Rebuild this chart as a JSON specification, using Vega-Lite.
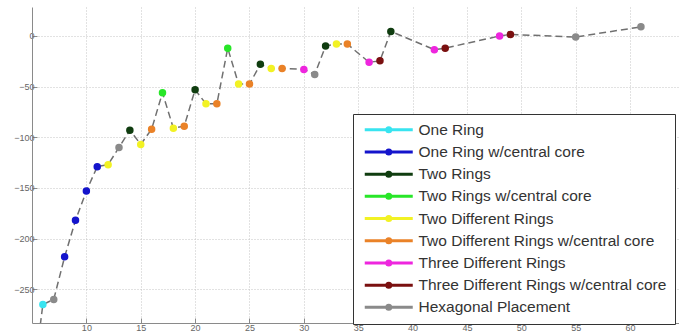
{
  "$schema": "https://vega.github.io/schema/vega-lite/v6.json",
  "autosize": {"type": "none"},
  "width": 647,
  "height": 316,
  "padding": {"left": 32, "top": 7, "right": 0, "bottom": 9},
  "background": "white",
  "config": {
    "view": {"stroke": null},
    "font": "Liberation Sans",
    "axis": {
      "domainColor": "#8a8a8a",
      "domainWidth": 1,
      "gridColor": "#c4c4c4",
      "gridDash": [1, 2],
      "gridWidth": 1,
      "tickColor": "#8a8a8a",
      "tickSize": -5,
      "labelFont": "Liberation Sans",
      "labelFontSize": 9,
      "labelColor": "#666",
      "labelPadding": 3,
      "title": null
    },
    "legend": {
      "orient": "none",
      "legendX": 321,
      "legendY": 107,
      "padding": 8,
      "strokeColor": "#333",
      "fillColor": "white",
      "symbolType": "M-1,0H11M4.5,0a0.5,0.5 0 1,0 1,0a0.5,0.5 0 1,0 -1,0",
      "symbolSize": 64,
      "symbolStrokeWidth": 3,
      "labelOffset": 42,
      "labelFont": "Liberation Sans",
      "labelFontSize": 15.5,
      "labelColor": "#333",
      "labelLimit": 400,
      "rowPadding": 4.2
    }
  },
  "data": {
    "values": [
      {"n": 5, "v": -350, "type": "One Ring"},
      {"n": 6, "v": -265, "type": "One Ring"},
      {"n": 7, "v": -260, "type": "Hexagonal Placement"},
      {"n": 8, "v": -218, "type": "One Ring w/central core"},
      {"n": 9, "v": -182, "type": "One Ring w/central core"},
      {"n": 10, "v": -153, "type": "One Ring w/central core"},
      {"n": 11, "v": -129, "type": "One Ring w/central core"},
      {"n": 12, "v": -127, "type": "Two Different Rings"},
      {"n": 13, "v": -110, "type": "Hexagonal Placement"},
      {"n": 14, "v": -93, "type": "Two Rings"},
      {"n": 15, "v": -107, "type": "Two Different Rings"},
      {"n": 16, "v": -92, "type": "Two Different Rings w/central core"},
      {"n": 17, "v": -56, "type": "Two Rings w/central core"},
      {"n": 18, "v": -91, "type": "Two Different Rings"},
      {"n": 19, "v": -89, "type": "Two Different Rings w/central core"},
      {"n": 20, "v": -53, "type": "Two Rings"},
      {"n": 21, "v": -67, "type": "Two Different Rings"},
      {"n": 22, "v": -67, "type": "Two Different Rings w/central core"},
      {"n": 23, "v": -12, "type": "Two Rings w/central core"},
      {"n": 24, "v": -47.5, "type": "Two Different Rings"},
      {"n": 25, "v": -47.5, "type": "Two Different Rings w/central core"},
      {"n": 26, "v": -28, "type": "Two Rings"},
      {"n": 27, "v": -32, "type": "Two Different Rings"},
      {"n": 28, "v": -32, "type": "Two Different Rings w/central core"},
      {"n": 30, "v": -33, "type": "Three Different Rings"},
      {"n": 31, "v": -38, "type": "Hexagonal Placement"},
      {"n": 32, "v": -10, "type": "Two Rings"},
      {"n": 33, "v": -8, "type": "Two Different Rings"},
      {"n": 34, "v": -8, "type": "Two Different Rings w/central core"},
      {"n": 36, "v": -26, "type": "Three Different Rings"},
      {"n": 37, "v": -24.5, "type": "Three Different Rings w/central core"},
      {"n": 38, "v": 4.5, "type": "Two Rings"},
      {"n": 42, "v": -13.5, "type": "Three Different Rings"},
      {"n": 43, "v": -12, "type": "Three Different Rings w/central core"},
      {"n": 48, "v": 0, "type": "Three Different Rings"},
      {"n": 49, "v": 1.5, "type": "Three Different Rings w/central core"},
      {"n": 55, "v": -1, "type": "Hexagonal Placement"},
      {"n": 61, "v": 9, "type": "Hexagonal Placement"}
    ]
  },
  "encoding": {
    "x": {
      "field": "n",
      "type": "quantitative",
      "scale": {"domain": [5, 64.5], "nice": false, "zero": false},
      "axis": {"values": [10, 15, 20, 25, 30, 35, 40, 45, 50, 55, 60], "labelPadding": 5}
    },
    "y": {
      "field": "v",
      "type": "quantitative",
      "scale": {"domain": [-283.3, 28.6], "nice": false, "zero": false},
      "axis": {"values": [-250, -200, -150, -100, -50, 0]}
    }
  },
  "layer": [
    {
      "mark": {"type": "line", "clip": true, "color": "#707070", "strokeWidth": 1.5, "strokeDash": [7, 4]},
      "encoding": {"order": {"field": "n", "type": "quantitative"}}
    },
    {
      "mark": {"type": "point", "clip": true, "size": 36, "strokeWidth": 1.5, "opacity": 1, "fillOpacity": 1, "strokeOpacity": 1},
      "encoding": {
        "fill": {
          "field": "type",
          "type": "nominal",
          "scale": {
            "domain": ["One Ring", "One Ring w/central core", "Two Rings", "Two Rings w/central core", "Two Different Rings", "Two Different Rings w/central core", "Three Different Rings", "Three Different Rings w/central core", "Hexagonal Placement"],
            "range": ["#38e4f0", "#1414cc", "#103d10", "#28e628", "#f2f224", "#ea8228", "#ee26de", "#7a1010", "#8a8a8a"]
          },
          "legend": {"title": null, "encode": {"symbols": {"strokeWidth": {"value": 3}}}}
        },
        "stroke": {
          "field": "type",
          "type": "nominal",
          "scale": {
            "domain": ["One Ring", "One Ring w/central core", "Two Rings", "Two Rings w/central core", "Two Different Rings", "Two Different Rings w/central core", "Three Different Rings", "Three Different Rings w/central core", "Hexagonal Placement"],
            "range": ["#38e4f0", "#1414cc", "#103d10", "#28e628", "#f2f224", "#ea8228", "#ee26de", "#7a1010", "#8a8a8a"]
          },
          "legend": {"title": null, "encode": {"symbols": {"strokeWidth": {"value": 3}}}}
        }
      }
    }
  ]
}
